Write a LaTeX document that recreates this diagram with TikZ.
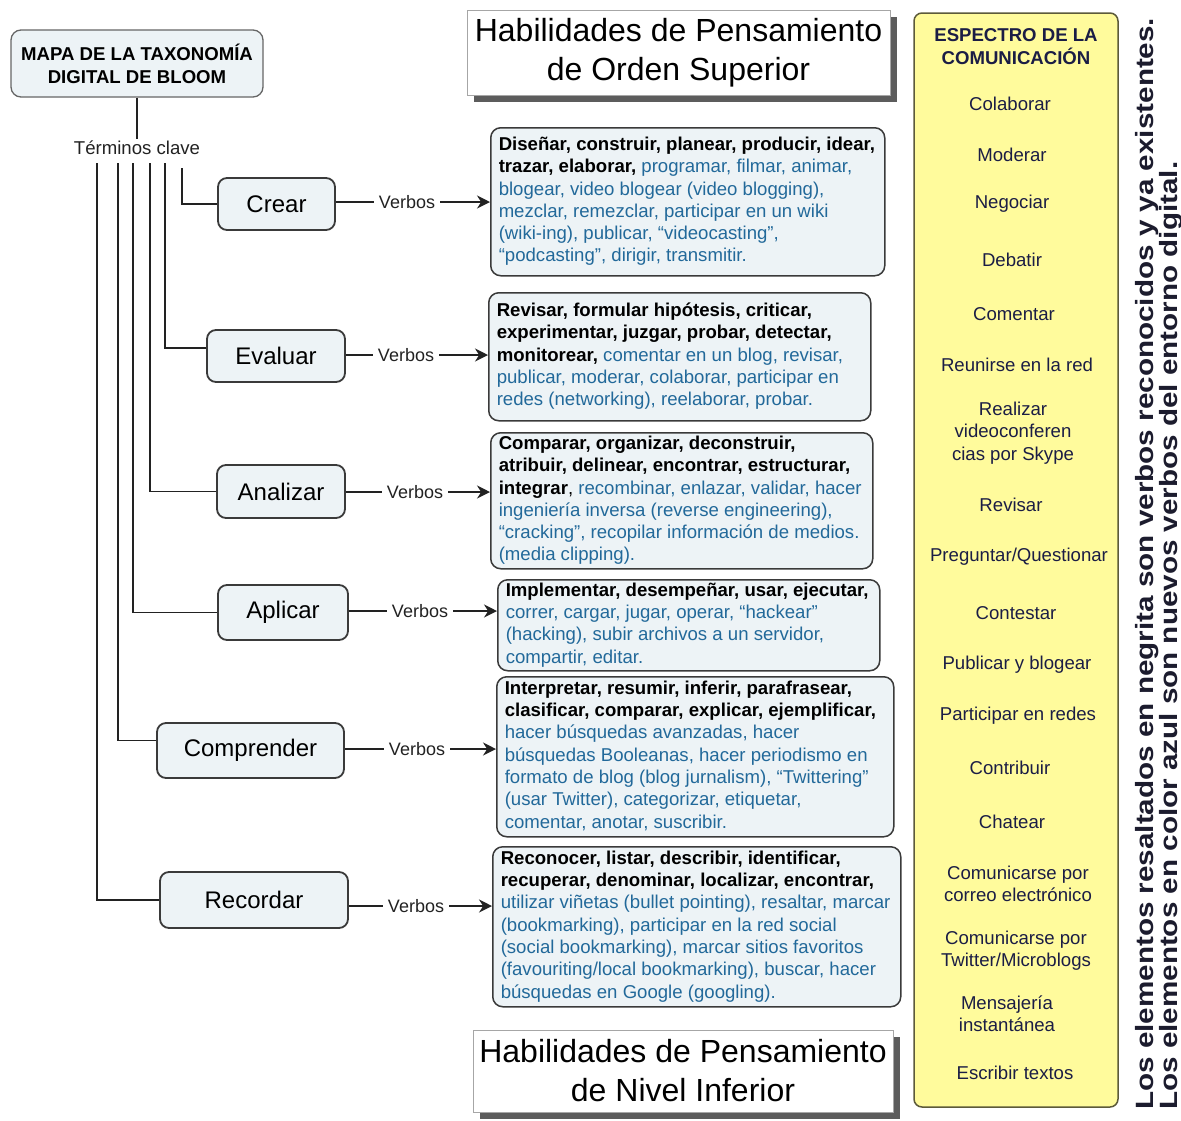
\documentclass[tikz,border=0pt]{standalone}
\usepackage{fontspec}
\setmainfont{Liberation Sans}
\usetikzlibrary{arrows.meta,shadows}
\definecolor{boxfill}{HTML}{EDF3F6}
\definecolor{boxdraw}{HTML}{3A3A3A}
\definecolor{vblue}{HTML}{22699A}
\definecolor{yfill}{HTML}{FFFB9C}
\definecolor{ydraw}{HTML}{5C5A3A}
\definecolor{navy}{HTML}{1B1D45}
\definecolor{rtext}{HTML}{1C1C2E}
\definecolor{linec}{HTML}{222222}
\newcommand\bl[1]{\textcolor{vblue}{#1}}
\newcommand\vlines[2]{\makebox[#1pt][l]{\begin{tabular}{@{}l@{}}#2\end{tabular}}}
\tikzset{
  vbox/.style={draw=boxdraw, fill=boxfill, line width=1.5pt, rounded corners=10pt,
    anchor=north west, inner xsep=8pt, inner ysep=0pt,
    font=\fontsize{18.6}{22.3}\selectfont},
  lbox/.style={draw=boxdraw, fill=boxfill, line width=1.8pt, rounded corners=9pt,
    inner sep=0pt, font=\fontsize{24}{28}\selectfont},
  tree/.style={draw=linec, line width=1.6pt},
  arr/.style={draw=linec, line width=2pt, -{Stealth[length=13pt,width=13pt]}},
  verbos/.style={inner sep=5pt, font=\fontsize{18}{20}\selectfont, text=linec},
  hbox/.style={draw=black!35, fill=white, line width=1pt, align=center,
    font=\fontsize{32}{39}\selectfont,
    drop shadow={shadow xshift=7pt, shadow yshift=-7pt, fill=black!75, opacity=0.85}},
  yitem/.style={inner sep=0pt, align=center, text=navy, font=\fontsize{18.6}{22.3}\selectfont},
  note/.style={rotate=90, anchor=base west, inner sep=0pt, text=rtext,
    font=\bfseries\fontsize{25}{25}\selectfont}
}
\begin{document}
\begin{tikzpicture}[x=1pt,y=-1pt]
\useasboundingbox (0,0) rectangle (1181,1120);

% title
\node[draw=black!60, fill=boxfill, line width=1.3pt, rounded corners=10pt,
  minimum width=252pt, minimum height=67pt, align=center,
  font=\bfseries\fontsize{18.6}{23}\selectfont] (title) at (137,63.5)
  {MAPA DE LA TAXONOMÍA\\DIGITAL DE BLOOM};
\node[inner sep=2pt, font=\fontsize{18.6}{22}\selectfont, text=linec] (terminos) at (137,148) {Términos clave};
\draw[tree] (title.south) -- (terminos.north);

% headings
\node[hbox, minimum width=423pt, minimum height=85pt] (hsup) at (678.5,52.5)
  {Habilidades de Pensamiento\\de Orden Superior};
\node[hbox, minimum width=420pt, minimum height=82pt] (hinf) at (683,1071)
  {Habilidades de Pensamiento\\de Nivel Inferior};

% level boxes
\node[lbox, minimum width=117pt, minimum height=52pt] (crear) at (276.5,204) {Crear};
\node[lbox, minimum width=138pt, minimum height=52pt] (evaluar) at (276,356) {Evaluar};
\node[lbox, minimum width=128pt, minimum height=53pt] (analizar) at (281,491.5) {Analizar};
\node[lbox, minimum width=130pt, minimum height=55pt] (aplicar) at (283,612.5) {Aplicar};
\node[lbox, minimum width=187pt, minimum height=55pt] (comprender) at (250.5,750.5) {Comprender};
\node[lbox, minimum width=188pt, minimum height=56pt] (recordar) at (254,900) {Recordar};

% tree
\coordinate (k1) at (182,168);
\coordinate (k2) at (165,163);
\coordinate (k3) at (150,163);
\coordinate (k4) at (133,163);
\coordinate (k5) at (118,163);
\coordinate (k6) at (97,163);
\draw[tree] (k1) |- (crear.west);
\draw[tree] (k2) |- ([yshift=8pt]evaluar.west);
\draw[tree] (k3) |- (analizar.west);
\draw[tree] (k4) |- (aplicar.west);
\draw[tree] (k5) |- ([yshift=10pt]comprender.west);
\draw[tree] (k6) |- (recordar.west);

% verb boxes
\node[vbox, minimum height=148pt] (bcrear) at (490,127) {\vlines{378}{%
\textbf{Diseñar, construir, planear, producir, idear,}\\
\textbf{trazar, elaborar,} \bl{programar, filmar, animar,}\\
\bl{blogear, video blogear (video blogging),}\\
\bl{mezclar, remezclar, participar en un wiki}\\
\bl{(wiki-ing), publicar, “videocasting”,}\\
\bl{“podcasting”, dirigir, transmitir.}}};

\node[vbox, minimum height=128pt] (bevaluar) at (488,292) {\vlines{366}{%
\textbf{Revisar, formular hipótesis, criticar,}\\
\textbf{experimentar, juzgar, probar, detectar,}\\
\textbf{monitorear,} \bl{comentar en un blog, revisar,}\\
\bl{publicar, moderar, colaborar, participar en}\\
\bl{redes (networking), reelaborar, probar.}}};

\node[vbox, minimum height=136pt] (banalizar) at (490,432) {\vlines{366}{%
\textbf{Comparar, organizar, deconstruir,}\\
\textbf{atribuir, delinear, encontrar, estructurar,}\\
\textbf{integrar}, \bl{recombinar, enlazar, validar, hacer}\\
\bl{ingeniería inversa (reverse engineering),}\\
\bl{“cracking”, recopilar información de medios.}\\
\bl{(media clipping).}}};

\node[vbox, minimum height=91pt] (baplicar) at (497,579) {\vlines{366}{%
\textbf{Implementar, desempeñar, usar, ejecutar,}\\
\bl{correr, cargar, jugar, operar, “hackear”}\\
\bl{(hacking), subir archivos a un servidor,}\\
\bl{compartir, editar.}}};

\node[vbox, minimum height=160pt] (bcomprender) at (496,676) {\vlines{381}{%
\textbf{Interpretar, resumir, inferir, parafrasear,}\\
\textbf{clasificar, comparar, explicar, ejemplificar,}\\
\bl{hacer búsquedas avanzadas, hacer}\\
\bl{búsquedas Booleanas, hacer periodismo en}\\
\bl{formato de blog (blog jurnalism), “Twittering”}\\
\bl{(usar Twitter), categorizar, etiquetar,}\\
\bl{comentar, anotar, suscribir.}}};

\node[vbox, minimum height=160pt] (brecordar) at (492,846) {\vlines{392}{%
\textbf{Reconocer, listar, describir, identificar,}\\
\textbf{recuperar, denominar, localizar, encontrar,}\\
\bl{utilizar viñetas (bullet pointing), resaltar, marcar}\\
\bl{(bookmarking), participar en la red social}\\
\bl{(social bookmarking), marcar sitios favoritos}\\
\bl{(favouriting/local bookmarking), buscar, hacer}\\
\bl{búsquedas en Google (googling).}}};

% Verbos connectors
\node[verbos] (v1) at (407,202) {Verbos};
\node[verbos] (v2) at (406,355) {Verbos};
\node[verbos] (v3) at (415,492) {Verbos};
\node[verbos] (v4) at (420,611) {Verbos};
\node[verbos] (v5) at (417,749) {Verbos};
\node[verbos] (v6) at (416,906) {Verbos};
\draw[tree] (v1.west -| crear.east) -- (v1.west);
\draw[tree] (v2.west -| evaluar.east) -- (v2.west);
\draw[tree] (v3.west -| analizar.east) -- (v3.west);
\draw[tree] (v4.west -| aplicar.east) -- (v4.west);
\draw[tree] (v5.west -| comprender.east) -- (v5.west);
\draw[tree] (v6.west -| recordar.east) -- (v6.west);
\draw[arr] (v1.east) -- (v1.east -| bcrear.west);
\draw[arr] (v2.east) -- (v2.east -| bevaluar.west);
\draw[arr] (v3.east) -- (v3.east -| banalizar.west);
\draw[arr] (v4.east) -- (v4.east -| baplicar.west);
\draw[arr] (v5.east) -- (v5.east -| bcomprender.west);
\draw[arr] (v6.east) -- (v6.east -| brecordar.west);

% spectrum box
\node[draw=ydraw, fill=yfill, line width=1.5pt, rounded corners=8pt,
  minimum width=204pt, minimum height=1094pt] (spec) at (1016,560) {};
\node[yitem, font=\bfseries\fontsize{18.6}{23}\selectfont] (shead) at (1016,46.5)
  {ESPECTRO DE LA\\COMUNICACIÓN};
\node[yitem] (s1) at (1010,104) {Colaborar};
\node[yitem] (s2) at (1012,155) {Moderar};
\node[yitem] (s3) at (1012,204) {Negociar};
\node[yitem] (s4) at (1012,260) {Debatir};
\node[yitem] (s5) at (1014,314) {Comentar};
\node[yitem] (s6) at (1017,365) {Reunirse en la red};
\node[yitem] (s7) at (1013,433) {Realizar\\videoconferen\\cias por Skype};
\node[yitem] (s8) at (1011,505) {Revisar};
\node[yitem] (s9) at (1019,557) {Preguntar/Questionar};
\node[yitem] (s10) at (1016,613) {Contestar};
\node[yitem] (s11) at (1017,665) {Publicar y blogear};
\node[yitem] (s12) at (1018,716) {Participar en redes};
\node[yitem] (s13) at (1010,768) {Contribuir};
\node[yitem] (s14) at (1012,822) {Chatear};
\node[yitem] (s15) at (1018,884) {Comunicarse por\\correo electrónico};
\node[yitem] (s16) at (1016,951) {Comunicarse por\\Twitter/Microblogs};
\node[yitem] (s17) at (1007,1014) {Mensajería\\instantánea};
\node[yitem] (s18) at (1015,1073) {Escribir textos};

% side notes
\node[note] (n1) at (1153,1110) {\resizebox{1092pt}{\height}{Los elementos resaltados en negrita son verbos reconocidos y ya existentes.}};
\node[note] (n2) at (1177,1110) {\resizebox{948pt}{\height}{Los elementos en color azul son nuevos verbos del entorno digital.}};
\end{tikzpicture}
\end{document}
